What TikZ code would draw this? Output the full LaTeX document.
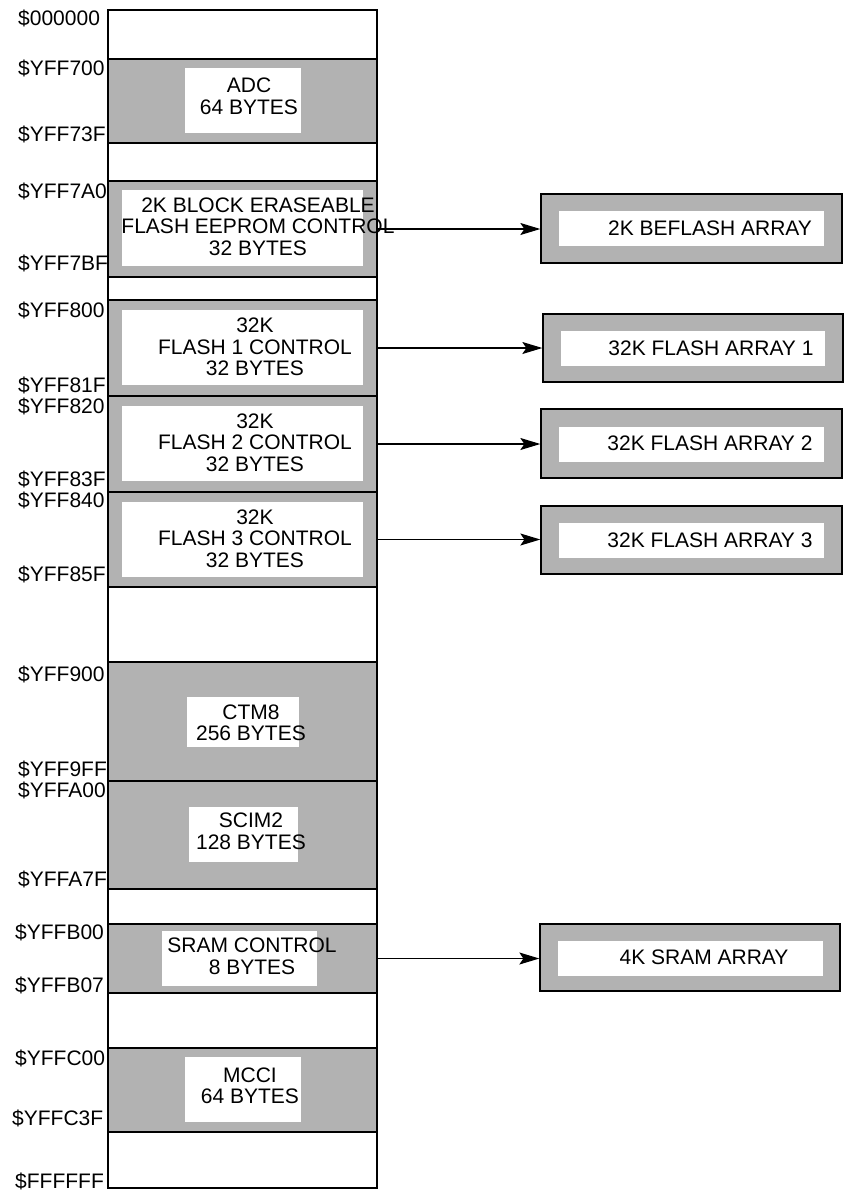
\documentclass[tikz,border=0pt]{standalone}
\usepackage{fontspec}
\setmainfont{Liberation Sans}
\usetikzlibrary{arrows.meta}
\definecolor{blockgray}{gray}{0.70}

\begin{document}
\begin{tikzpicture}[x=1pt, y=-1pt, >={Stealth[length=20pt,width=12pt,inset=4pt]},
        font=\fontsize{21}{21.5}\selectfont,
        memblock/.style={draw, line width=1.3pt, fill=blockgray, minimum width=269pt, inner sep=0pt},
        arraybox/.style={draw, line width=1.3pt, fill=blockgray, inner sep=0pt},
        addr/.style={anchor=base west, inner sep=0pt},
        blocktext/.style={align=center, inner sep=0pt}]
        % ==== PAGE ====
        \useasboundingbox (0,0) rectangle (844,1192);

        % ==== MEMORY COLUMN ====
        \draw[line width=1.3pt] (108,10) rectangle (377,1188);

        % ==== ADC ====
        \node[memblock, minimum height=84pt] (adc) at (242.5,101) {};
        \fill[white] (185,68) rectangle (301,133);
        \node[blocktext] (adctxt) at (249,96.5) {ADC\\64 BYTES};

        % ==== BLOCK ERASEABLE FLASH CONTROL ====
        \node[memblock, minimum height=96pt] (befc) at (242.5,229) {};
        \fill[white] (122,190) rectangle (363,266);
        \node[blocktext] (befctxt) at (258,226.5) {2K BLOCK ERASEABLE\\FLASH EEPROM CONTROL\\32 BYTES};

        % ==== FLASH CONTROL 1-3 ====
        \node[memblock, minimum height=96pt] (fl1) at (242.5,348) {};
        \fill[white] (122,310) rectangle (363,385);
        \node[blocktext] (fl1txt) at (255,347) {32K\\FLASH 1 CONTROL\\32 BYTES};

        \node[memblock, minimum height=96pt] (fl2) at (242.5,444) {};
        \fill[white] (122,406) rectangle (363,481);
        \node[blocktext] (fl2txt) at (255,442.5) {32K\\FLASH 2 CONTROL\\32 BYTES};

        \node[memblock, minimum height=95pt] (fl3) at (242.5,539.5) {};
        \fill[white] (122,502) rectangle (363,577);
        \node[blocktext] (fl3txt) at (255,538.5) {32K\\FLASH 3 CONTROL\\32 BYTES};

        % ==== CTM8 ====
        \node[memblock, minimum height=119pt] (ctm) at (242.5,721.5) {};
        \fill[white] (187,697) rectangle (299,747);
        \node[blocktext] (ctmtxt) at (251,723) {CTM8\\256 BYTES};

        % ==== SCIM2 ====
        \node[memblock, minimum height=108pt] (scim) at (242.5,835) {};
        \fill[white] (189,807) rectangle (298,862);
        \node[blocktext] (scimtxt) at (251,831.5) {SCIM2\\128 BYTES};

        % ==== SRAM CONTROL ====
        \node[memblock, minimum height=69pt] (sram) at (242.5,958.5) {};
        \fill[white] (162,931) rectangle (317,986);
        \node[blocktext] (sramtxt) at (252,956.5) {SRAM CONTROL\\8 BYTES};

        % ==== MCCI ====
        \node[memblock, minimum height=84pt] (mcci) at (242.5,1090) {};
        \fill[white] (185,1057) rectangle (301,1122);
        \node[blocktext] (mccitxt) at (250,1086) {MCCI\\64 BYTES};

        % ==== ADDRESSES ====
        \node[addr] (a0) at (18,25) {\$000000};
        \node[addr] (a1) at (18,75) {\$YFF700};
        \node[addr] (a2) at (18,141.5) {\$YFF73F};
        \node[addr] (a3) at (18,198) {\$YFF7A0};
        \node[addr] (a4) at (18,270) {\$YFF7BF};
        \node[addr] (a5) at (18,317) {\$YFF800};
        \node[addr] (a6) at (18,392) {\$YFF81F};
        \node[addr] (a7) at (18,413) {\$YFF820};
        \node[addr] (a8) at (18,486.5) {\$YFF83F};
        \node[addr] (a9) at (18,507.5) {\$YFF840};
        \node[addr] (a10) at (18,581.5) {\$YFF85F};
        \node[addr] (a11) at (18,681.5) {\$YFF900};
        \node[addr] (a12) at (18,776) {\$YFF9FF};
        \node[addr] (a13) at (18,797.5) {\$YFFA00};
        \node[addr] (a14) at (18,886.5) {\$YFFA7F};
        \node[addr] (a15) at (15,939) {\$YFFB00};
        \node[addr] (a16) at (15,992.5) {\$YFFB07};
        \node[addr] (a17) at (15,1065) {\$YFFC00};
        \node[addr] (a18) at (12,1125.5) {\$YFFC3F};
        \node[addr] (a19) at (15,1188) {\$FFFFFF};

        % ==== ARRAYS ====
        \node[arraybox, minimum width=301pt, minimum height=69pt] (bfa) at (691.5,228.5) {};
        \fill[white] (559,211) rectangle (824,246);
        \node (bfatxt) at (710,228.5) {2K BEFLASH ARRAY};

        \node[arraybox, minimum width=300pt, minimum height=68pt] (fa1) at (693,348) {};
        \fill[white] (561,331) rectangle (825,366);
        \node (fa1txt) at (711,348) {32K FLASH ARRAY 1};

        \node[arraybox, minimum width=301pt, minimum height=69pt] (fa2) at (691.5,443.5) {};
        \fill[white] (559,427) rectangle (824,462);
        \node (fa2txt) at (710,443.5) {32K FLASH ARRAY 2};

        \node[arraybox, minimum width=301pt, minimum height=68pt] (fa3) at (691.5,540) {};
        \fill[white] (559,523) rectangle (824,558);
        \node (fa3txt) at (710,540) {32K FLASH ARRAY 3};

        \node[arraybox, minimum width=300pt, minimum height=67pt] (sra) at (690,957.5) {};
        \fill[white] (558,941) rectangle (823,976);
        \node (sratxt) at (704,957.5) {4K SRAM ARRAY};

        % ==== ARROWS ====
        \draw[->, line width=1.2pt] (befc.east) -- (befc.east -| bfa.west);
        \draw[->, line width=1.2pt] (fl1.east) -- (fl1.east -| fa1.west);
        \draw[->, line width=1.2pt] (fl2.east) -- (fl2.east -| fa2.west);
        \draw[->, line width=1.2pt] (fl3.east) -- (fl3.east -| fa3.west);
        \draw[->, line width=1.2pt] (sram.east) -- (sram.east -| sra.west);
    \end{tikzpicture}
\end{document}
